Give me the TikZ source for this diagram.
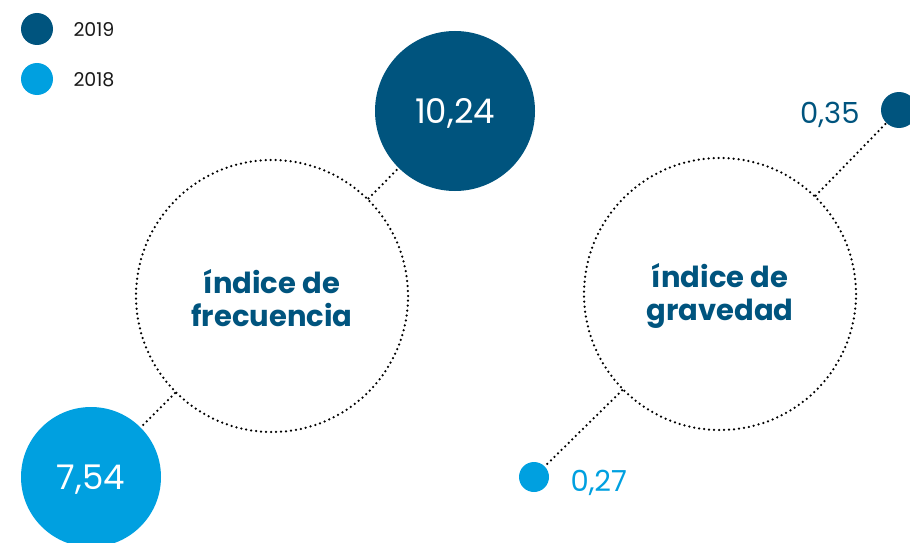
\documentclass[tikz,border=0pt]{standalone}
\usepackage{fontspec}
\setmainfont{Poppins}
\usepackage{tikz}
\definecolor{dark}{RGB}{0,84,126}
\definecolor{light}{RGB}{0,160,224}
\tikzset{
  dot/.style={circle, inner sep=0pt, text=white},
  ring/.style={circle, draw, line width=2.5pt, dash pattern=on 0pt off 5pt, line cap=round,
    inner sep=0pt, minimum size=272pt, text=dark, align=center,
    font=\fontsize{29}{33}\selectfont\bfseries},
  link/.style={line width=2.5pt, dash pattern=on 0pt off 5pt, line cap=round},
  value/.style={font=\fontsize{34}{36}\selectfont},
  small/.style={font=\fontsize{29}{32}\selectfont},
  key/.style={font=\fontsize{19}{20}\selectfont, text=black!90}
}
\begin{document}
\begin{tikzpicture}[x=1pt, y=-1pt]
\useasboundingbox (0,0) rectangle (910,543);

% legend
\node[dot, fill=dark, minimum size=32pt] (k19) at (37,29) {};
\node[dot, fill=light, minimum size=32pt] (k18) at (37,79) {};
\node[key, anchor=west] at (70,30) {2019};
\node[key, anchor=west] at (70,80) {2018};

% indice de frecuencia
\node[ring] (frec) at (272,296) {};
\node[ring, draw=none] at (272,298) {índice de\\frecuencia};
\node[dot, fill=dark, minimum size=160pt] (f19) at (455,111) {};
\node[value, text=white] at (455,113) {10,24};
\node[dot, fill=light, minimum size=140pt] (f18) at (91,477) {};
\node[value, text=white] at (91,480) {7,54};
\draw[link] (frec) -- (f19);
\draw[link] (frec) -- (f18);

% indice de gravedad
\node[ring] (grav) at (720,294) {};
\node[ring, draw=none] at (720,296) {índice de\\gravedad};
\node[dot, fill=dark, minimum size=36pt] (g19) at (899,110) {};
\node[dot, fill=light, minimum size=30pt] (g18) at (534,477) {};
\draw[link] (grav) -- (g19);
\draw[link] (grav) -- (g18);
\node[small, text=dark, anchor=east] at (863,115) {0,35};
\node[small, text=light, anchor=west] at (567,483) {0,27};

\end{tikzpicture}
\end{document}
